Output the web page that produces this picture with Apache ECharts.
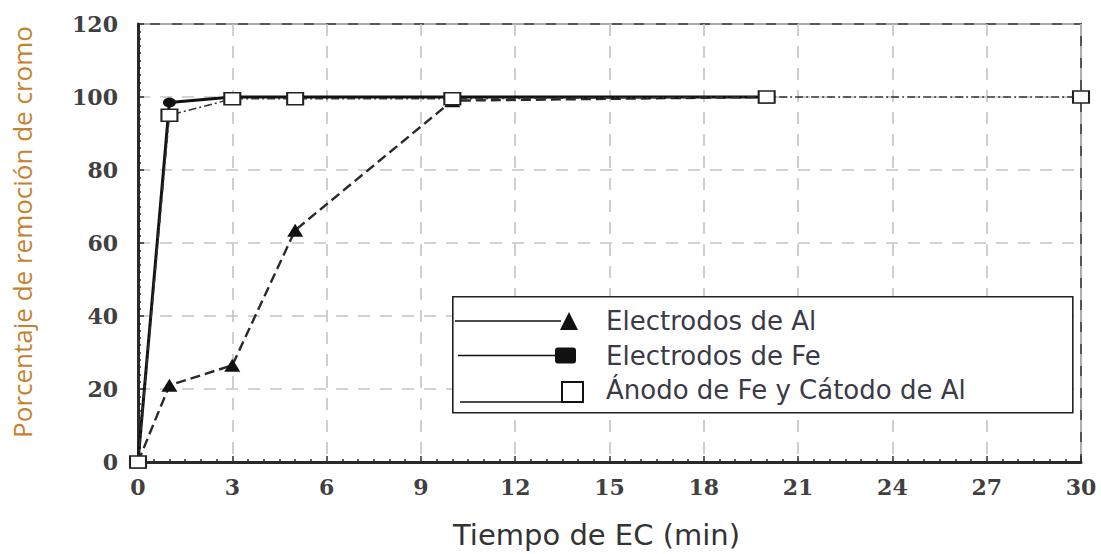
<!DOCTYPE html>
<html>
<head>
<meta charset="utf-8">
<script src="https://cdn.jsdelivr.net/npm/echarts@6/dist/echarts.min.js"></script>
<style>
  html, body { margin: 0; padding: 0; background: #ffffff; }
  #chart { width: 1101px; height: 554px; }
</style>
</head>
<body>
<div id="chart"></div>
<script>
// Chromium removal over electrocoagulation time
const seriesNames = ['Electrodos de Al', 'Electrodos de Fe', 'Ánodo de Fe y Cátodo de Al'];

const timeAl = [0, 1, 3, 5, 10, 20];
const removalAl = [0, 21, 26.5, 63.5, 99, 100];

const timeFe = [0, 1, 3, 5, 10, 20];
const removalFe = [0, 98.5, 100, 100, 100, 100];

const timeMixed = [0, 1, 3, 5, 10, 20, 30];
const removalMixed = [0, 95, 99.5, 99.5, 99.5, 100, 100];

const xTicks = { min: 0, max: 30, interval: 3 };
const yTicks = { min: 0, max: 120, interval: 20 };

const pairs = (xs, ys) => xs.map((x, i) => [x, ys[i]]);

// legend glyphs: a short line ending in the series marker (130 x 28 box)
const corners = 'M0 0h0.01v0.01h-0.01Z M129.99 27.99h0.01v0.01h-0.01Z ';
const iconAl = 'path://' + corners + 'M0 13.2H106V14.8H0Z M105 23L114 5L123 23Z';
const iconFe = 'path://' + corners + 'M3 13.2H101V14.8H3Z M103 6H118Q121 6 121 9V19Q121 22 118 22H103Q100 22 100 19V9Q100 6 103 6Z';
const iconMixed = 'path://' + corners + 'M5 25.2H106V26.8H5Z M106 5H129V27H106Z M108 7V25H127V7Z';

const chart = echarts.init(document.getElementById('chart'), null, { renderer: 'svg' });

const labelFont = { fontFamily: 'DejaVu Serif', fontWeight: 'bold', fontSize: 22, color: '#404040' };

chart.setOption({
  backgroundColor: '#ffffff',
  animation: false,
  grid: {
    left: 138, right: 20, top: 24, bottom: 89,
    show: true, borderColor: '#555555', borderWidth: 2, backgroundColor: 'transparent'
  },
  xAxis: {
    type: 'value',
    min: xTicks.min, max: xTicks.max, interval: xTicks.interval,
    name: 'Tiempo de EC (min)',
    nameLocation: 'middle',
    nameGap: 58,
    nameTextStyle: { fontFamily: 'DejaVu Sans', fontSize: 29, color: '#333333', padding: [0, 26, 0, 0] },
    axisLine: { show: true, onZero: false, lineStyle: { color: '#2a2a2a', width: 3 } },
    axisTick: { show: true, inside: true, length: 6, lineStyle: { color: '#2a2a2a', width: 1.5 } },
    minorTick: { show: true, splitNumber: 6, length: 3, lineStyle: { color: '#2a2a2a', width: 1.5 } },
    axisLabel: Object.assign({ margin: 14 }, labelFont),
    splitLine: { show: true, lineStyle: { color: '#c4c4c4', width: 1.6, type: [12, 10] } }
  },
  yAxis: {
    type: 'value',
    min: yTicks.min, max: yTicks.max, interval: yTicks.interval,
    name: 'Porcentaje de remoción de cromo',
    nameLocation: 'middle',
    nameGap: 103,
    nameTextStyle: { fontFamily: 'Open Sans', fontSize: 26, color: '#c5822f', padding: [0, 0, 0, 22] },
    axisLine: { show: true, onZero: false, lineStyle: { color: '#2a2a2a', width: 3 } },
    axisTick: { show: true, inside: true, length: 6, lineStyle: { color: '#2a2a2a', width: 1.5 } },
    minorTick: { show: true, splitNumber: 10, length: 3, lineStyle: { color: '#2a2a2a', width: 1.5 } },
    axisLabel: Object.assign({ margin: 20 }, labelFont),
    splitLine: { show: true, lineStyle: { color: '#c4c4c4', width: 1.6, type: [12, 10] } }
  },
  legend: {
    orient: 'vertical',
    left: 455, top: 307,
    itemWidth: 130, itemHeight: 28, itemGap: 6.5,
    padding: 0,
    selectedMode: false,
    textStyle: { fontFamily: 'DejaVu Sans', fontSize: 26, color: '#3a3a48', padding: [0, 0, 0, 16] },
    data: [
      { name: seriesNames[0], icon: iconAl, itemStyle: { color: '#111111', borderWidth: 0 } },
      { name: seriesNames[1], icon: iconFe, itemStyle: { color: '#111111', borderWidth: 0 } },
      { name: seriesNames[2], icon: iconMixed, itemStyle: { color: '#111111', borderWidth: 0 } }
    ]
  },
  graphic: [{
    type: 'rect',
    left: 452, top: 296,
    shape: { width: 620, height: 116 },
    style: { fill: '#ffffff', stroke: '#222222', lineWidth: 1.6 },
    z: 3
  }],
  series: [
    {
      name: seriesNames[0],
      type: 'line',
      data: pairs(timeAl, removalAl),
      symbol: 'triangle',
      symbolSize: [16, 13],
      clip: false,
      itemStyle: { color: '#111111' },
      lineStyle: { color: '#2a2a2a', width: 2.4, type: [10, 5] },
      z: 2
    },
    {
      name: seriesNames[1],
      type: 'line',
      data: pairs(timeFe, removalFe),
      symbol: 'circle',
      symbolSize: [13, 10],
      clip: false,
      itemStyle: { color: '#111111' },
      lineStyle: { color: '#111111', width: 3 },
      z: 3
    },
    {
      name: seriesNames[2],
      type: 'line',
      data: pairs(timeMixed, removalMixed),
      symbol: 'rect',
      symbolSize: [16, 12],
      clip: false,
      itemStyle: { color: '#ffffff', borderColor: '#222222', borderWidth: 1.8 },
      lineStyle: { color: '#333333', width: 1.5, type: [8, 3, 2, 3] },
      z: 4
    }
  ]
});
</script>
</body>
</html>
